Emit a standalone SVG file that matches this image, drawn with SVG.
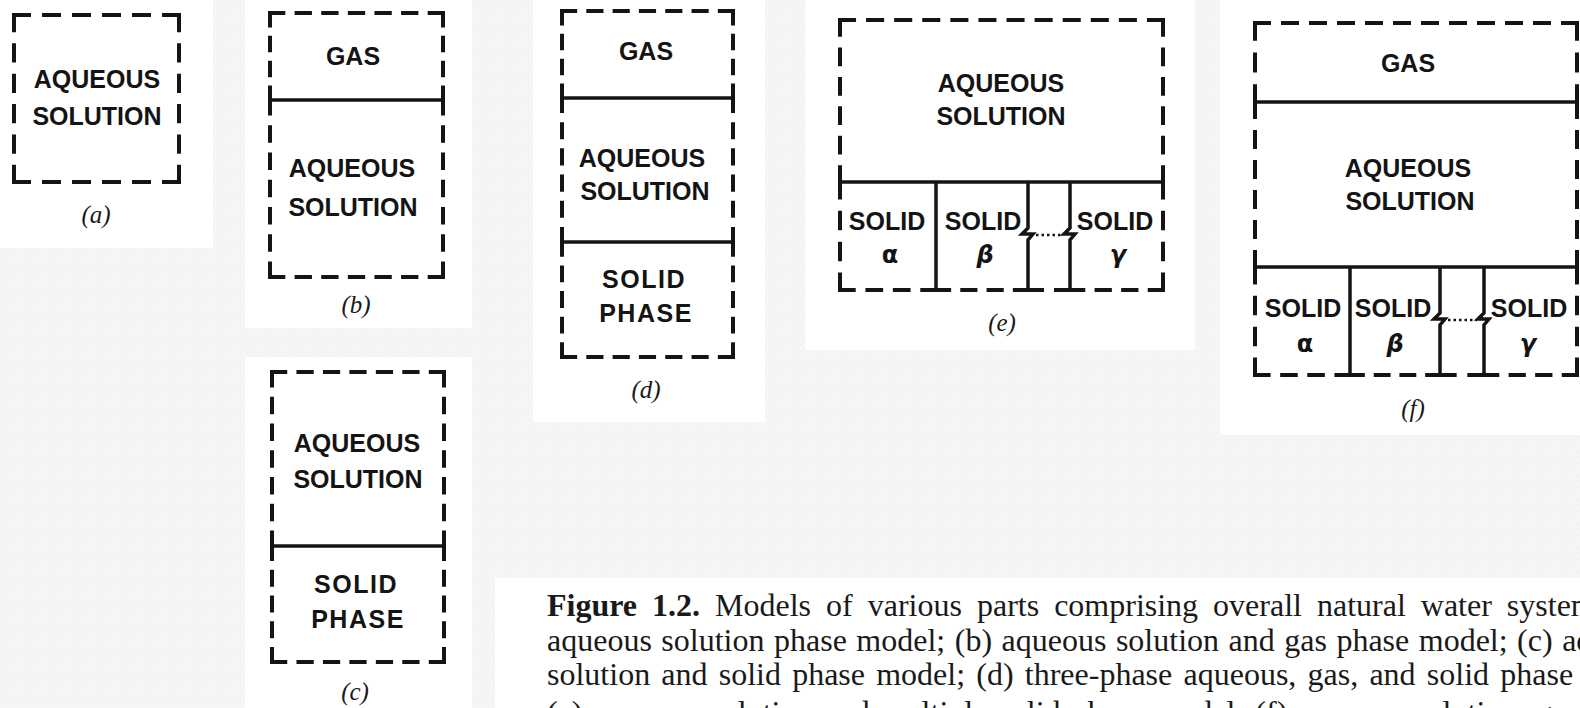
<svg xmlns="http://www.w3.org/2000/svg" width="1580" height="708" viewBox="0 0 1580 708">
<defs>
<pattern id="tex" width="6" height="6" patternUnits="userSpaceOnUse">
<rect width="6" height="6" fill="#f6f6f6"/>
<rect x="0" y="0" width="1" height="1" fill="#ebebeb"/>
<rect x="3" y="3" width="1" height="1" fill="#ebebeb"/>
<rect x="1" y="4" width="1" height="1" fill="#efefef"/>
<rect x="4" y="1" width="1" height="1" fill="#efefef"/>
</pattern>
</defs>
<style>
.panel{fill:#ffffff}
.dash{fill:none;stroke:#141414;stroke-width:4;stroke-dasharray:14 14;stroke-linecap:square}
.solid{fill:none;stroke:#141414;stroke-width:3.5;stroke-linejoin:miter}
.dots{fill:none;stroke:#141414;stroke-width:2.5;stroke-dasharray:2.5 3}
.lbl{font-family:"Liberation Sans",Arial,sans-serif;font-weight:bold;font-size:25px;fill:#141414;text-anchor:middle}
.sp{letter-spacing:1.5px}
.gk{font-family:"DejaVu Sans",sans-serif;font-weight:bold;font-size:24px;fill:#141414;text-anchor:middle}
.cap{font-family:"Liberation Serif","Times New Roman",serif;font-style:italic;font-size:25px;fill:#1a1a1a;text-anchor:middle}
.txt{font-family:"Liberation Serif","Times New Roman",serif;font-size:32px;fill:#1a1a1a}
</style>
<rect width="1580" height="708" fill="url(#tex)"/>
<g id="panels">
<rect class="panel" x="0" y="0" width="213" height="248"/>
<rect class="panel" x="245" y="0" width="227" height="328"/>
<rect class="panel" x="245" y="357" width="227" height="351"/>
<rect class="panel" x="533" y="0" width="232" height="422"/>
<rect class="panel" x="805" y="0" width="390" height="350"/>
<rect class="panel" x="1220" y="0" width="360" height="435"/>
<rect class="panel" x="495" y="578" width="1085" height="130"/>
</g>
<g id="fig-a">
<path class="dash" d="M14,15H179" pathLength="154"/>
<path class="dash" d="M14,182H179" pathLength="154"/>
<path class="dash" d="M14,15V182" pathLength="154"/>
<path class="dash" d="M179,15V182" pathLength="154"/>
<text class="lbl" x="97" y="88">AQUEOUS</text>
<text class="lbl" x="97" y="125">SOLUTION</text>
<text class="cap" x="96" y="223">(a)</text>
</g>
<g id="fig-b">
<path class="dash" d="M270,13H443" pathLength="182"/>
<path class="dash" d="M270,277H443" pathLength="182"/>
<path class="dash" d="M270,13V100" pathLength="98"/>
<path class="dash" d="M270,100V277" pathLength="182"/>
<path class="dash" d="M443,13V100" pathLength="98"/>
<path class="dash" d="M443,100V277" pathLength="182"/>
<path class="solid" d="M270,100H443"/>
<text class="lbl" x="353" y="65">GAS</text>
<text class="lbl" x="352" y="177">AQUEOUS</text>
<text class="lbl" x="353" y="216">SOLUTION</text>
<text class="cap" x="356" y="313">(b)</text>
</g>
<g id="fig-c">
<path class="dash" d="M272,372H444" pathLength="182"/>
<path class="dash" d="M272,662H444" pathLength="182"/>
<path class="dash" d="M272,372V546" pathLength="182"/>
<path class="dash" d="M272,546V662" pathLength="126"/>
<path class="dash" d="M444,372V546" pathLength="182"/>
<path class="dash" d="M444,546V662" pathLength="126"/>
<path class="solid" d="M272,546H444"/>
<text class="lbl" x="357" y="452">AQUEOUS</text>
<text class="lbl" x="358" y="488">SOLUTION</text>
<text class="lbl sp" x="356" y="593">SOLID</text>
<text class="lbl sp" x="358" y="628">PHASE</text>
<text class="cap" x="355" y="700">(c)</text>
</g>
<g id="fig-d">
<path class="dash" d="M562,11H733" pathLength="182"/>
<path class="dash" d="M562,357H733" pathLength="182"/>
<path class="dash" d="M562,11V98" pathLength="98"/>
<path class="dash" d="M562,98V242" pathLength="154"/>
<path class="dash" d="M562,242V357" pathLength="126"/>
<path class="dash" d="M733,11V98" pathLength="98"/>
<path class="dash" d="M733,98V242" pathLength="154"/>
<path class="dash" d="M733,242V357" pathLength="126"/>
<path class="solid" d="M562,98H733"/>
<path class="solid" d="M562,242H733"/>
<text class="lbl" x="646" y="60">GAS</text>
<text class="lbl" x="642" y="167">AQUEOUS</text>
<text class="lbl" x="645" y="200">SOLUTION</text>
<text class="lbl sp" x="644" y="288">SOLID</text>
<text class="lbl sp" x="646" y="322">PHASE</text>
<text class="cap" x="646" y="398">(d)</text>
</g>
<g id="fig-e">
<path class="dash" d="M840,20H1163" pathLength="322"/>
<path class="dash" d="M840,20V182" pathLength="154"/>
<path class="dash" d="M840,182V290" pathLength="98"/>
<path class="dash" d="M1163,20V182" pathLength="154"/>
<path class="dash" d="M1163,182V290" pathLength="98"/>
<path class="dash" d="M840,290H936" pathLength="98"/>
<path class="dash" d="M936,290H1028" pathLength="98"/>
<path class="dash" d="M1028,290H1070" pathLength="42"/>
<path class="dash" d="M1070,290H1163" pathLength="98"/>
<path class="solid" d="M840,182H1163"/>
<path class="solid" d="M936,182V290"/>
<path class="solid" d="M1028,182V228L1022,234H1033L1028,240V290"/>
<path class="solid" d="M1070,182V228L1064,234H1075L1070,240V290"/>
<path class="dots" d="M1036,235H1063"/>
<text class="lbl" x="1001" y="92">AQUEOUS</text>
<text class="lbl" x="1001" y="125">SOLUTION</text>
<text class="lbl" x="887" y="230">SOLID</text>
<text class="lbl" x="983" y="230">SOLID</text>
<text class="lbl" x="1115" y="230">SOLID</text>
<text class="gk" x="890" y="263">α</text>
<text class="gk" x="985" y="263" font-style="italic">β</text>
<text class="gk" x="1118" y="263" font-style="italic">γ</text>
<text class="cap" x="1002" y="331">(e)</text>
</g>
<g id="fig-f">
<path class="dash" d="M1255,23H1577" pathLength="322"/>
<path class="dash" d="M1255,23V102" pathLength="70"/>
<path class="dash" d="M1255,102V267" pathLength="154"/>
<path class="dash" d="M1255,267V375" pathLength="98"/>
<path class="dash" d="M1577,23V102" pathLength="70"/>
<path class="dash" d="M1577,102V267" pathLength="154"/>
<path class="dash" d="M1577,267V375" pathLength="98"/>
<path class="dash" d="M1255,375H1350" pathLength="98"/>
<path class="dash" d="M1350,375H1440" pathLength="98"/>
<path class="dash" d="M1440,375H1484" pathLength="42"/>
<path class="dash" d="M1484,375H1577" pathLength="98"/>
<path class="solid" d="M1255,102H1577"/>
<path class="solid" d="M1255,267H1577"/>
<path class="solid" d="M1350,267V375"/>
<path class="solid" d="M1440,267V313L1434,319H1445L1440,325V375"/>
<path class="solid" d="M1484,267V313L1478,319H1489L1484,325V375"/>
<path class="dots" d="M1448,320H1477"/>
<text class="lbl" x="1408" y="72">GAS</text>
<text class="lbl" x="1408" y="177">AQUEOUS</text>
<text class="lbl" x="1410" y="210">SOLUTION</text>
<text class="lbl" x="1303" y="317">SOLID</text>
<text class="lbl" x="1393" y="317">SOLID</text>
<text class="lbl" x="1529" y="317">SOLID</text>
<text class="gk" x="1305" y="352">α</text>
<text class="gk" x="1395" y="352" font-style="italic">β</text>
<text class="gk" x="1528" y="352" font-style="italic">γ</text>
<text class="cap" x="1413" y="417">(f)</text>
</g>
<g id="caption">
<text class="txt" x="547" y="616" word-spacing="7"><tspan font-weight="bold">Figure 1.2.</tspan> Models of various parts comprising overall natural water systems</text>
<text class="txt" x="547" y="651" word-spacing="1.5">aqueous solution phase model; (b) aqueous solution and gas phase model; (c) aqueous</text>
<text class="txt" x="547" y="685" word-spacing="3.2">solution and solid phase model; (d) three-phase aqueous, gas, and solid phase model;</text>
<text class="txt" x="547" y="723" word-spacing="3">(e) aqueous solution and multiple solid phase model; (f) aqueous solution, gas, and</text>
</g>
</svg>
